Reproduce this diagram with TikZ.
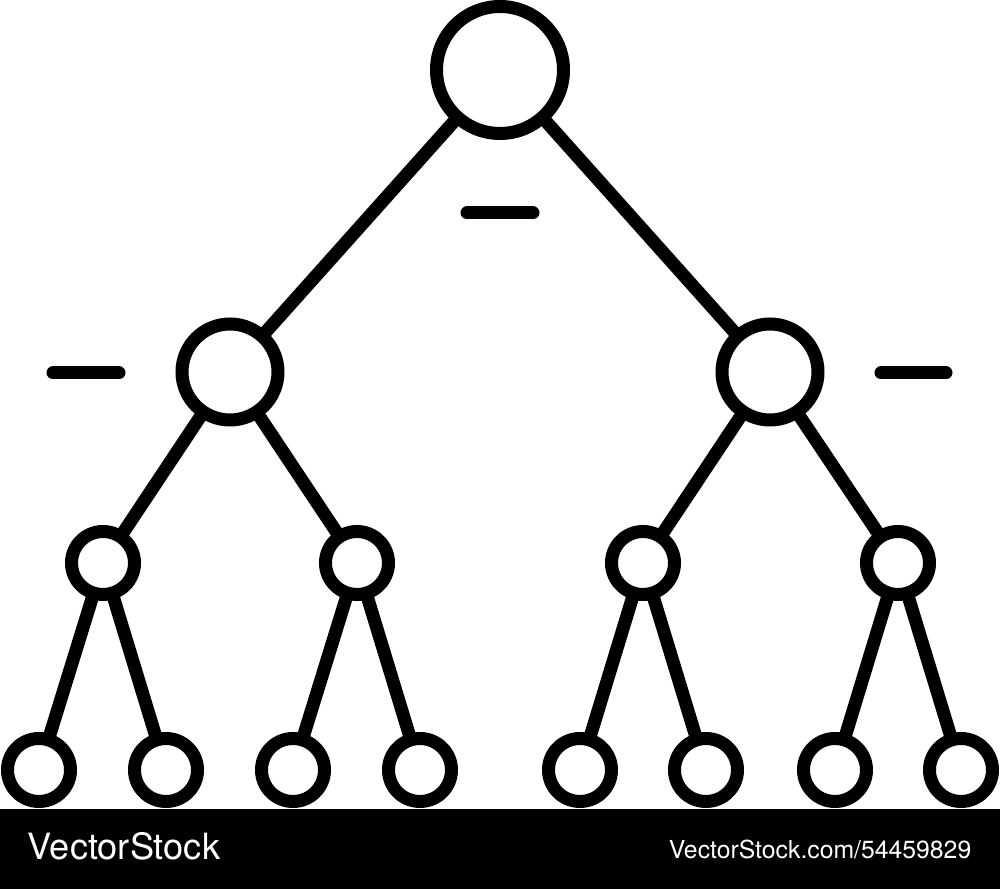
\documentclass[tikz,border=0pt]{standalone}
\usepackage{fontspec}
\setmainfont{TeX Gyre Heros}
\begin{document}
\begin{tikzpicture}[x=0.1mm,y=-0.1mm,
  tnode/.style={circle,draw=black,line width=1.3mm,inner sep=0pt,outer sep=0pt,fill=white},
  big/.style={tnode,minimum size=12.7mm},
  mid/.style={tnode,minimum size=9.6mm},
  small/.style={tnode,minimum size=6.3mm},
  edge/.style={draw=black,line width=1.3mm},
  dashmark/.style={draw=black,line width=1.3mm,line cap=round}]
\useasboundingbox (0,0) rectangle (1000,889);
\fill[black] (0,809) rectangle (1000,889);
% nodes
\node[big] (r) at (500,70) {};
\node[mid] (a) at (230,372) {};
\node[mid] (b) at (770,372) {};
\node[small] (a1) at (103,563) {};
\node[small] (a2) at (357,563) {};
\node[small] (b1) at (643,563) {};
\node[small] (b2) at (898,563) {};
\node[small] (l1) at (39,770) {};
\node[small] (l2) at (166,770) {};
\node[small] (l3) at (293,770) {};
\node[small] (l4) at (420,770) {};
\node[small] (l5) at (580,770) {};
\node[small] (l6) at (706,770) {};
\node[small] (l7) at (835,770) {};
\node[small] (l8) at (961,770) {};
% edges
\path[edge] (r) -- (a);
\path[edge] (r) -- (b);
\path[edge] (a) -- (a1);
\path[edge] (a) -- (a2);
\path[edge] (b) -- (b1);
\path[edge] (b) -- (b2);
\path[edge] (a1) -- (l1);
\path[edge] (a1) -- (l2);
\path[edge] (a2) -- (l3);
\path[edge] (a2) -- (l4);
\path[edge] (b1) -- (l5);
\path[edge] (b1) -- (l6);
\path[edge] (b2) -- (l7);
\path[edge] (b2) -- (l8);
% dashes
\coordinate (d1s) at (467,213); \coordinate (d1e) at (533,213);
\coordinate (d2s) at (53,373); \coordinate (d2e) at (119,373);
\coordinate (d3s) at (881,373); \coordinate (d3e) at (946,373);
\path[dashmark] (d1s) -- (d1e);
\path[dashmark] (d2s) -- (d2e);
\path[dashmark] (d3s) -- (d3e);
% watermark
\node[anchor=base west,inner sep=0pt,text=white,font=\fontsize{10.3pt}{12pt}\selectfont] (wm1) at (27,860) {VectorStock};
\node[anchor=base east,inner sep=0pt,text=white,font=\fontsize{7.05pt}{8pt}\selectfont] (wm2) at (972,859) {VectorStock.com/54459829};
\end{tikzpicture}
\end{document}
